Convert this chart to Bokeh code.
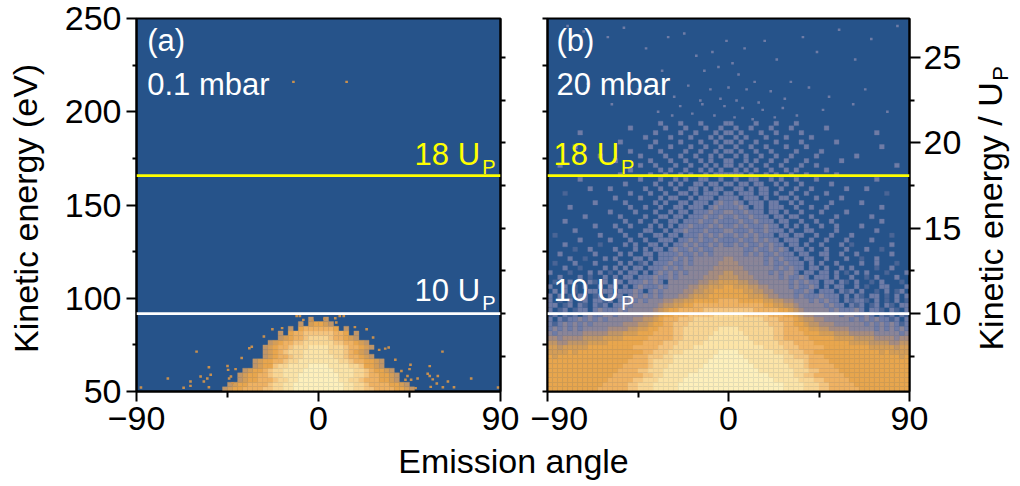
from bokeh.plotting import figure
from bokeh.layouts import row, column
from bokeh.models import Range1d, LinearAxis, FixedTicker, Label, ColumnDataSource, Span
from bokeh.embed import file_html
from bokeh.resources import INLINE

FONT = "Liberation Sans"
BLUE = "#26538a"
LEVELS = {"1": "#4a6596", "2": "#6f7ca6", "3": "#8a8598", "4": "#a68c80", "5": "#c09668",
          "6": "#d49e58", "7": "#e8a64e", "8": "#efb263", "9": "#f5c57f", "a": "#f9d694",
          "b": "#fce4a8", "c": "#fef0bc"}

# panel (a): energy of each row's bottom, centred strings of 2.5 deg cells
a_energy = [50, 52.5, 55, 57.5, 60, 62.5, 65, 67.5, 70, 72.5, 75, 77.5, 80, 82.5, 85, 87.5]
a_rows = [
    "5677888899aabbccccccccccbbaa9988887765",
    "567788889aabbccccccccccbbaa988887765",
    "56778889aabbccccccccbbaa98887765",
    "5677889aabbbccccccccbbbaa9887765",
    "567789aabbbbccccccbbbbaa987765",
    "56779aabbbbccccbbbbaa97765",
    "5677889aabbbbbbbbaa9887765",
    "567889aabbbbbbaa988765",
    "56789aaabbbbbaaa98765",
    "567889aaabbbbaaa988765",
    "5678899aaaaaa9988765",
    "567889aaaa988765",
    "5078899999988705",
    "507888888705",
    "50677650",
    "5005",
]
a_dot_angle = [-87.8, -74.5, -60.3, -54.2, -53.3, -55, -58.3, -63.3, -63.3, -66.7, -56.7, -54.2, -45, -44.7, -44.2,
               -43.3, -42.5, -34.2, -22.8, -7.5, -10.8, -9.2, 10.5, 12.5, 8.3, 8.8, 23.8, 34.7, 30, 45.5, 45, 45.8,
               61.3, 55, 54, 55, 56.5, 58.5, 59, 64, 61.5, 67, 75.5, 88.8, 55.5, 48, 49, 44, 43, -12.4, 13.9,
               -27, -33, -38, -41, 27, 33, 38, 41, -18, 18, 3, -3]
a_dot_energy = [52.1, 57, 71.4, 63, 59, 57, 58, 55.4, 53, 52, 55.4, 52.3, 63.7, 61.6, 57, 58, 54.5, 73.2, 83.4, 88.4,
                90.5, 90.5, 90.5, 90.5, 89.3, 87, 83.4, 73.6, 72.3, 64.3, 62, 56.3, 71.4, 63.6, 59.5, 58.3, 56.5, 54.3,
                58.3, 55.4, 52.3, 52.3, 57, 52.1, 52.5, 51.8, 57, 58.3, 56.3, 216, 216,
                79.5, 74, 68, 62, 79, 73, 67, 61, 84, 84.5, 89, 88]

# panel (b): every row is 72 cells of 2.5 deg, written in six 30-degree groups
b_start_energy = 50
b_step_energy = 2.5
b_rows = [
    "777777777788 888899aaabbb bbcccccccccc cccccccccccb bbbaaa998888 887777777777",
    "777777777778 888899aaabbb bbcccccccccc cccccccccccb bbbaaa998888 877777777777",
    "777777777777 8888899aaabb bbbccccccccc cccccccccbbb bbaaa9988888 777777777777",
    "777777777777 788888899aab bbbbcccccccc ccccccccbbbb baa998888887 777777777777",
    "777777777777 77888899aaab bbbbbbcccccc ccccccbbbbbb baaa99888877 777777777777",
    "777777777777 777888889aaa bbbbbbbccccc cccccbbbbbbb aaa988888777 777777777777",
    "777777777777 777788889aaa abbbbbbbcccc ccccbbbbbbba aaa988887777 777777777777",
    "767777777777 77777888999a abbbbbbbbccc cccbbbbbbbba a99988877777 777777777767",
    "666676777777 777777788999 aaabbbbbbbcc ccbbbbbbbaaa 999887777777 777777676666",
    "665666667777 777778888899 9aaaabbbbbbb bbbbbbbaaaa9 998888877777 777766666566",
    "554455556666 777777788889 99aaaaabbbbb bbbbbaaaaa99 988887777777 666655554455",
    "443444455556 666777778888 899aaaaabbbb bbbbaaaaa998 888877777666 655554444344",
    "323333344444 555666777888 899aaaaaabbb bbbaaaaaa998 888777666555 444443333323",
    "232323233333 444455667788 899aaaaaaabb bbaaaaaaa998 887766554444 333332323232",
    "212323232333 333444556778 8999aaaaaaaa aaaaaaaa9998 877655444333 333232323212",
    "202122323232 333334455678 88999aaaaaaa aaaaaaa99988 876554433333 232323221202",
    "120212023223 323333344567 788899999aaa aaa999998887 765443333323 322320212021",
    "201201220232 223233333456 778888899999 999998888877 654333332322 232022102102",
    "220120210212 022323333345 566778888888 888888877665 543333323220 212012021022",
    "201020120221 202232323334 455667777788 887777766554 433323232202 122102010201",
    "202010220120 222023232323 334456667777 777766654433 323222322202 021022010202",
    "020201002202 202223202323 333445566777 777665544333 322320222021 202001020120",
    "200201020020 220202322232 333344556667 766655443333 232232020220 020100220002",
    "010020002102 022022232320 333333445566 665544333333 232322022021 020010200010",
    "002000201002 020220222322 323333344455 554443333323 223202220200 200102000200",
    "200010002020 102022020232 323233334445 544433332323 320220220201 020200010002",
    "000200100002 020202202223 232333333444 444333333232 322022020020 200001002000",
    "010002000200 002020120222 322323333344 443333323223 222020200200 002002000100",
    "000020010002 020002202022 232323333334 433333323232 220220020002 001002000000",
    "002000000200 002020022022 223223232333 333232322322 202200220020 020000002000",
    "000001002000 020002020220 232232322333 333223223232 022020020002 000200100000",
    "000200000010 000202002202 022323223232 232322323220 220200200020 100000002000",
    "000000200000 200020020022 202232322322 223223232202 220020020002 000020000000",
    "010000000020 000200200220 220222323232 232323222022 022002002000 200000001000",
    "000002000000 002000022002 022322232223 322232232220 200220000200 000002000000",
    "000000000200 020020002020 202232223232 232322232202 020200200200 002000000000",
    "000200000000 000200200200 220222322322 223223222022 002002002000 000000200000",
    "000000020000 002000020022 022022232232 232232220220 220020000200 000020000000",
    "000000000000 200002000200 202202223223 322322202202 002000200002 000000000000",
    "000020000000 000020020020 022022202322 223202202220 020020020000 000000200000",
    "000000000200 000200000202 002202220232 232022202200 202000002000 002000000000",
    "000000000000 020000200020 220020222022 220222020022 020002000020 000000000000",
    "000100000000 000020002002 002202022202 202220220200 200200020000 000000010000",
    "000000002000 200000020020 020022020220 022020220020 020020000002 000200000000",
    "000000000000 000200000200 202002202202 202202200202 002000002000 000000000000",
    "000000200000 000000200020 020200220020 020022002020 020002000000 000002000000",
    "000000000000 002000002002 002020020222 222020020200 200200000200 000000000000",
    "000000000000 000020000020 200200202020 020202002002 020000020000 000000000000",
    "002000000000 000000200200 020020020202 202020020020 002002000000 000000000200",
    "000000000000 020000002000 200200202002 200202002002 000200000020 000000000000",
    "000000000020 000000200002 002002002020 020200200200 200002000000 020000000000",
    "000000000000 000020000020 000200200202 202002002000 020000200000 000000000000",
    "000002000000 000000002000 200020020020 020020020002 000200000000 000000200000",
    "000000000000 002000000200 002000200202 202002000200 002000000200 000000000000",
    "000000000000 000000020000 200020002020 020200020002 000020000000 000000000000",
    "000000200000 000000000200 002002000202 202000200200 002000000000 000002000000",
    "000000000000 000020000002 000200020020 020020002000 200000020000 000000000000",
    "000000000000 000000000020 002000200002 200002000200 020000000000 000000000000",
]
b_dot_angle = [-80, -72, -60, -52, -41, -33, -30, -22, -16, -12, -8, -5, -1, 2, 5, 8, 13, 18, 24, 31, 37, 44, 55, 63, 71, 84,
               -70, -45, -38, -27, -20, -14, -9, -4, 0, 4, 9, 15, 21, 28, 40, 50, 68,
               -58, -35, -28, -24, -18, -13, -7, -2, 3, 7, 12, 17, 23, 27, 34, 47, 62, 79]
b_dot_energy = [246, 243, 240, 245, 234, 222, 240, 242, 230, 222, 232, 224, 238, 226, 220, 234, 216, 238, 228, 216, 240, 232, 244, 228, 239, 246,
                215, 212, 214, 208, 214, 206, 212, 207, 213, 206, 212, 205, 211, 207, 213, 208, 212,
                204, 200, 198, 203, 199, 204, 198, 203, 197, 202, 196, 201, 197, 202, 198, 201, 204, 200]

y_ticks = [50, 100, 150, 200, 250]
y_minor = [75, 125, 175, 225]
up_major = [10, 15, 20, 25]
up_minor = [7.5, 12.5, 17.5, 22.5]
x_ticks = [-90, 0, 90]
x_minor = [-45, 45]
line_18 = 165.8
line_10 = 91.8


def style(ax, major, minor):
    ax.axis_line_width = 2
    ax.axis_line_color = "black"
    ax.major_tick_line_width = 2
    ax.minor_tick_line_width = 2
    ax.major_tick_line_color = "black"
    ax.minor_tick_line_color = "black"
    ax.major_tick_in = 0
    ax.minor_tick_in = 0
    ax.major_tick_out = major
    ax.minor_tick_out = minor


def panel(border_left, border_right):
    p = figure(width=border_left + 364 + border_right, height=441, x_range=Range1d(-90, 90), y_range=Range1d(50, 250),
               output_backend="svg", toolbar_location=None, min_border_left=border_left, min_border_right=border_right,
               min_border_top=18, min_border_bottom=50, background_fill_color=BLUE)
    p.grid.visible = False
    p.outline_line_color = "black"
    p.outline_line_width = 2
    p.extra_y_ranges = {"up": Range1d(5.43, 27.28)}
    p.xaxis.ticker = FixedTicker(ticks=x_ticks, minor_ticks=x_minor)
    p.xaxis.major_label_overrides = {-90: "\u221290", 0: "0", 90: "90"}
    p.xaxis.major_label_text_font = FONT
    p.xaxis.major_label_text_font_size = "34px"
    p.xaxis.major_label_text_color = "black"
    p.xaxis.major_label_standoff = 5
    style(p.xaxis[0], 10, 6)
    return p


def blank(width, height):
    p = figure(width=width, height=height, x_range=Range1d(0, width), y_range=Range1d(0, height), output_backend="svg",
               toolbar_location=None, min_border=0, outline_line_color=None)
    p.axis.visible = False
    p.grid.visible = False
    return p


def put(p, text, x, y, size, color="white", angle=0.0, align="left", baseline="middle"):
    p.add_layout(Label(x=x, y=y, text=text, text_font=FONT, text_font_size=f"{size}px", text_color=color,
                       angle=angle, text_align=align, text_baseline=baseline))


def draw_cells(p, rows, energies, top, speck=1.0):
    w = 2.5
    l, r, b, t, c = [], [], [], [], []
    for i, s in enumerate(rows):
        pad = (72 - len(s)) // 2
        upper = energies[i + 1] if i + 1 < len(energies) else top
        for j, ch in enumerate(s):
            if ch == "0":
                continue
            x0 = -90 + (pad + j) * w
            f = speck if ch in "12" else 1.0
            dx = w * (1 - f) / 2
            dy = (upper - energies[i]) * (1 - f) / 2
            l.append(x0 + dx); r.append(x0 + w - dx); b.append(energies[i] + dy); t.append(upper - dy)
            c.append(LEVELS[ch])
    src = ColumnDataSource(dict(l=l, r=r, b=b, t=t, c=c))
    p.quad(left="l", right="r", bottom="b", top="t", fill_color="c", line_color="c", line_width=0.3, source=src)


def draw_dots(p, angles, energies, color):
    n = min(len(angles), len(energies))
    p.rect(x=angles[:n], y=energies[:n], width=1.3, height=1.3, fill_color=color, line_color=None)


def draw_lines(p):
    p.add_layout(Span(location=line_18, dimension="width", line_color="#ffff00", line_width=2.7))
    p.add_layout(Span(location=line_10, dimension="width", line_color="white", line_width=2.7))


# ---------- title of the left axis
p0 = blank(58, 441)
put(p0, "Kinetic energy (eV)", 25, 216.5, 34, "black", angle=1.5708, align="center")

# ---------- panel (a)
p1 = panel(78, 30)
draw_cells(p1, a_rows, a_energy, 90)
draw_dots(p1, a_dot_angle, a_dot_energy, "#c8904f")
draw_lines(p1)
left = p1.yaxis[0]
left.ticker = FixedTicker(ticks=y_ticks, minor_ticks=y_minor)
left.major_label_text_font = FONT
left.major_label_text_font_size = "34px"
left.major_label_text_color = "black"
left.major_label_standoff = 5
style(left, 10, 4)
ra = LinearAxis(y_range_name="up", ticker=FixedTicker(ticks=sorted(up_major + up_minor)),
                major_label_overrides={v: "" for v in up_major + up_minor})
style(ra, 5, 0)
p1.add_layout(ra, "right")
put(p1, "(a)", -84.7, 238, 31)
put(p1, "0.1 mbar", -84.7, 214.5, 31)
put(p1, "18 U", 47.5, 177, 31, "#ffff00")
put(p1, "P", 81, 170.5, 20, "#ffff00")
put(p1, "10 U", 47.5, 104, 31)
put(p1, "P", 81, 97.5, 20)

# ---------- panel (b)
p2 = panel(17, 53)
cells = ["".join(g.ljust(12, "0")[:12] for g in s.split()) for s in b_rows]
energies_b = [b_start_energy + i * b_step_energy for i in range(len(cells))]
draw_cells(p2, cells, energies_b, energies_b[-1] + b_step_energy, speck=0.95)
draw_dots(p2, b_dot_angle, b_dot_energy, "#6f7ca6")
draw_lines(p2)
lb = p2.yaxis[0]
lb.ticker = FixedTicker(ticks=sorted(y_ticks + y_minor))
lb.major_label_overrides = {v: "" for v in y_ticks + y_minor}
style(lb, 5, 0)
rb = LinearAxis(y_range_name="up", ticker=FixedTicker(ticks=up_major, minor_ticks=up_minor))
rb.major_label_text_font = FONT
rb.major_label_text_font_size = "34px"
rb.major_label_text_color = "black"
rb.major_label_standoff = 3
style(rb, 11, 5)
p2.add_layout(rb, "right")
put(p2, "(b)", -85.5, 238, 31)
put(p2, "20 mbar", -85.5, 214.5, 31)
put(p2, "18 U", -87, 177, 31, "#ffff00")
put(p2, "P", -53.5, 170.5, 20, "#ffff00")
put(p2, "10 U", -87, 104, 31)
put(p2, "P", -53.5, 97.5, 20)

# ---------- title of the right axis
p4 = blank(56, 441)
put(p4, "Kinetic energy / U", 26, 207, 34, "black", angle=1.5708, align="center")
put(p4, "P", 36, 376, 22, "black", angle=1.5708, align="center")

# ---------- shared x title
p3 = blank(1020, 44)
put(p3, "Emission angle", 513, 25, 34, "black", align="center")

page = column(row(p0, p1, p2, p4), p3)
open("out.html", "w").write(file_html(page, INLINE))
